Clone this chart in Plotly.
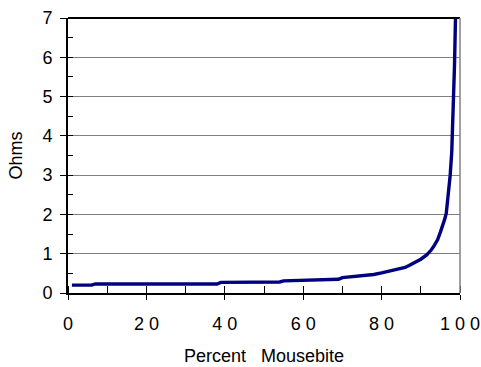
import plotly.graph_objects as go

percent = [1, 6, 7, 38, 39, 54, 55, 62, 63, 69, 70, 74, 78, 80, 82, 84, 86, 87,
           88.5, 90, 91.5, 92.7, 93.5, 94.3, 95, 95.6, 96.1, 96.5, 97.0, 97.5,
           97.9, 98.3, 98.6, 98.85]
ohms = [0.20, 0.20, 0.23, 0.23, 0.27, 0.28, 0.31, 0.32, 0.34, 0.35, 0.39, 0.42,
        0.47, 0.51, 0.55, 0.60, 0.65, 0.70, 0.77, 0.86, 0.97, 1.10, 1.22, 1.36,
        1.55, 1.70, 1.88, 2.03, 2.45, 3.00, 3.60, 4.6, 5.8, 7.0]

x_tickvals = [0, 20, 40, 60, 80, 100]
x_ticktext = ["0", "2 0", "4 0", "6 0", "8 0", "1 0 0"]
y_tickvals = [0, 1, 2, 3, 4, 5, 6, 7]

FONT = "Liberation Sans, Arial, sans-serif"

fig = go.Figure()
fig.add_trace(go.Scatter(x=percent, y=ohms, mode="lines",
                         line=dict(color="#000080", width=3.4), showlegend=False))

fig.update_layout(
    width=481, height=367,
    margin=dict(l=68, r=20.5, t=17.5, b=73.5),
    plot_bgcolor="white", paper_bgcolor="white",
    font=dict(family=FONT, size=18, color="black"),
    xaxis=dict(
        range=[0, 100], tickvals=x_tickvals, ticktext=x_ticktext,
        ticks="outside", ticklen=5, tickwidth=1.3, tickcolor="black",
        showline=True, linecolor="black", linewidth=2,
        showgrid=False, zeroline=False, automargin=False,
        tickfont=dict(size=18), ticklabelstandoff=8,
        title=dict(text="Percent   Mousebite", font=dict(size=18), standoff=17),
        minor=dict(dtick=10, tick0=0, ticks="inside", ticklen=7,
                   tickwidth=1.3, tickcolor="black"),
    ),
    yaxis=dict(
        range=[0, 7], tickvals=y_tickvals,
        ticks="outside", ticklen=6, tickwidth=1.3, tickcolor="black",
        showline=True, linecolor="black", linewidth=2,
        showgrid=True, gridcolor="#808080", gridwidth=1.3,
        zeroline=False, automargin=False, tickfont=dict(size=18),
        ticklabelstandoff=4,
        title=dict(text="Ohms", font=dict(size=18), standoff=15),
        minor=dict(dtick=0.5, tick0=0, ticks="inside", ticklen=5,
                   tickwidth=1.3, tickcolor="black"),
    ),
    shapes=[
        dict(type="line", xref="paper", yref="paper", x0=0, x1=1, y0=1, y1=1,
             line=dict(color="black", width=2)),
        dict(type="line", xref="paper", yref="paper", x0=1, x1=1, y0=0, y1=1,
             line=dict(color="#808080", width=1.5)),
    ],
)

fig.write_html("out.html")
